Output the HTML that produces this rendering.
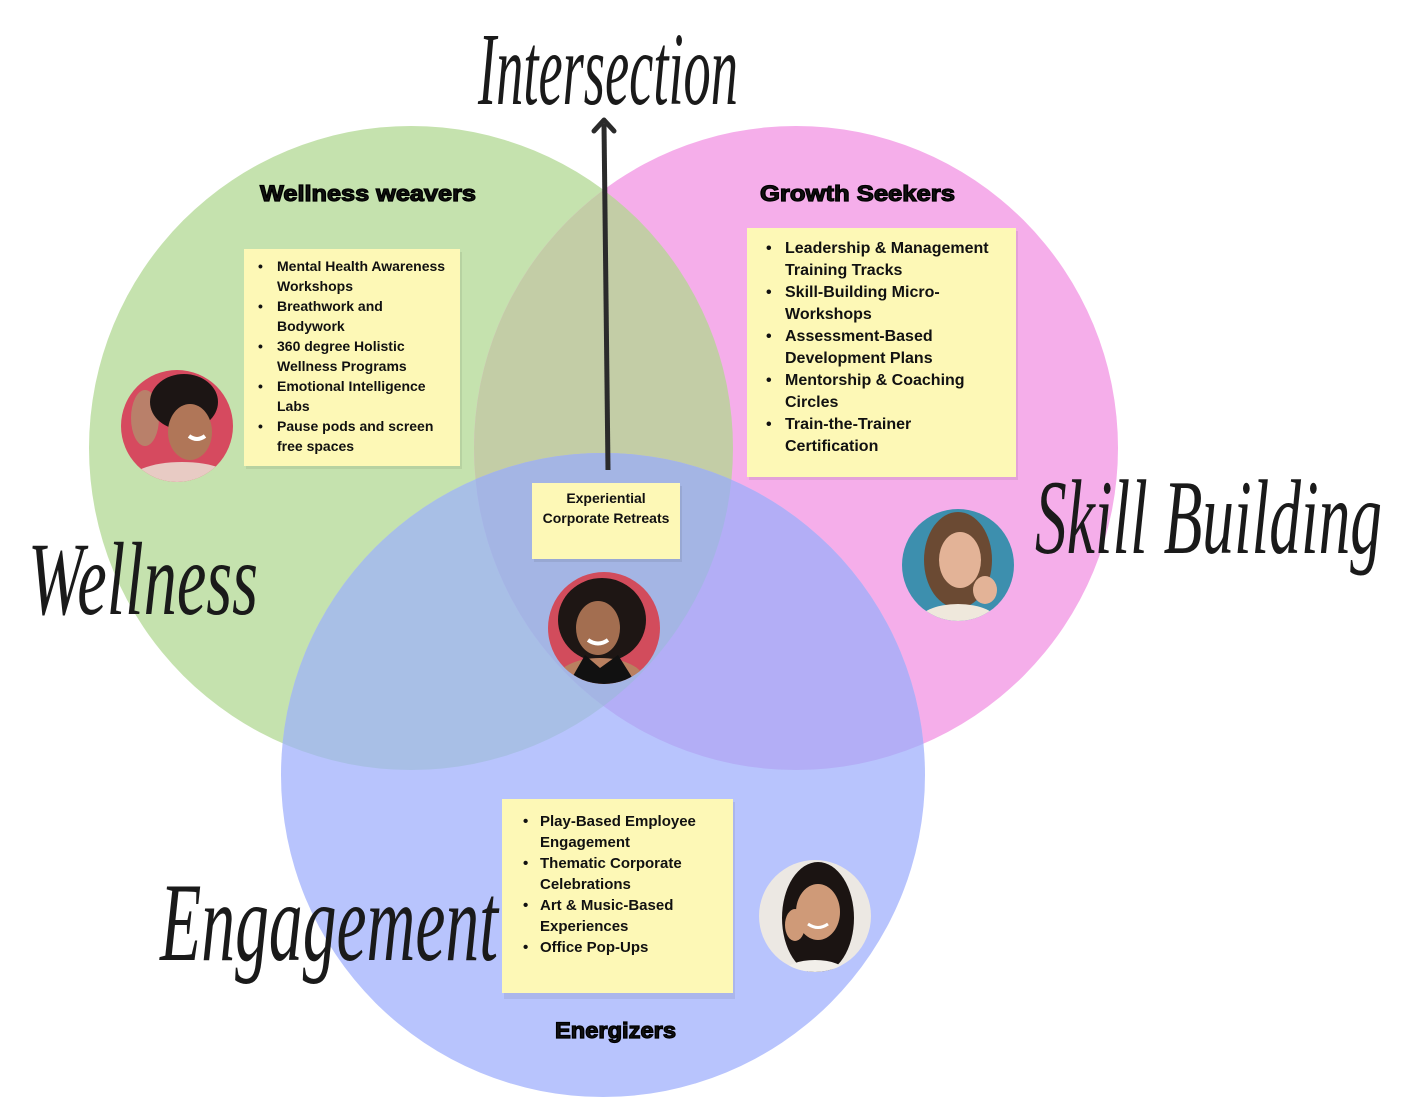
<!DOCTYPE html>
<html>
<head>
<meta charset="utf-8">
<style>
html,body{margin:0;padding:0;background:#fff;}
svg{display:block;}
.t{font-family:"Liberation Sans",sans-serif;font-weight:bold;fill:#111;}
.s{font-family:"Liberation Serif",serif;font-style:italic;fill:#1a1a1a;}
</style>
</head>
<body>
<svg width="1410" height="1117" viewBox="0 0 1410 1117" xmlns="http://www.w3.org/2000/svg">
<defs>
<clipPath id="cg"><circle cx="411" cy="448" r="322"/></clipPath>
<clipPath id="cp"><circle cx="796" cy="448" r="322"/></clipPath>
<clipPath id="c1"><circle cx="177" cy="426" r="56"/></clipPath>
<clipPath id="c2"><circle cx="604" cy="628" r="56"/></clipPath>
<clipPath id="c3"><circle cx="958" cy="565" r="56"/></clipPath>
<clipPath id="c4"><circle cx="815" cy="916" r="56"/></clipPath>
</defs>
<rect width="1410" height="1117" fill="#fff"/>

<!-- circles -->
<circle cx="411" cy="448" r="322" fill="#c5e2ae"/>
<circle cx="796" cy="448" r="322" fill="#f5aeea"/>
<circle cx="796" cy="448" r="322" fill="#c3cda6" clip-path="url(#cg)"/>
<circle cx="603" cy="775" r="322" fill="#b8c4fd"/>
<circle cx="603" cy="775" r="322" fill="#a8bfe6" clip-path="url(#cg)"/>
<circle cx="603" cy="775" r="322" fill="#b3aef6" clip-path="url(#cp)"/>
<g clip-path="url(#cg)"><circle cx="603" cy="775" r="322" fill="#a4b5e4" clip-path="url(#cp)"/></g>

<!-- script labels -->
<text class="s" x="478" y="104" font-size="104" textLength="260" lengthAdjust="spacingAndGlyphs">Intersection</text>
<text class="s" x="28" y="614" font-size="104" textLength="230" lengthAdjust="spacingAndGlyphs">Wellness</text>
<text class="s" x="1035" y="553" font-size="106" textLength="347" lengthAdjust="spacingAndGlyphs">Skill Building</text>
<text class="s" x="160" y="960" font-size="112" textLength="338" lengthAdjust="spacingAndGlyphs">Engagement</text>

<!-- arrow -->
<line x1="608" y1="470" x2="604" y2="124" stroke="#2b2b2b" stroke-width="5"/>
<polyline points="594,131 604,120 614,131" fill="none" stroke="#2b2b2b" stroke-width="5" stroke-linecap="round" stroke-linejoin="round"/>

<!-- titles -->
<text class="t" x="260" y="201" font-size="22" textLength="216" lengthAdjust="spacingAndGlyphs" stroke="#000" stroke-width="1.2" fill="#000">Wellness weavers</text>
<text class="t" x="760" y="201" font-size="22" textLength="195" lengthAdjust="spacingAndGlyphs" stroke="#000" stroke-width="1.2" fill="#000">Growth Seekers</text>
<text class="t" x="555" y="1038" font-size="22" textLength="121" lengthAdjust="spacingAndGlyphs" stroke="#000" stroke-width="1.2" fill="#000">Energizers</text>

<!-- notes -->
<!-- left -->
<rect x="246" y="252" width="216" height="217" fill="#000" opacity="0.07"/>
<rect x="244" y="249" width="216" height="217" fill="#fdf8b6"/>
<g class="t" font-size="14">
<text x="258" y="271">•</text><text x="277" y="271">Mental Health Awareness</text>
<text x="277" y="291">Workshops</text>
<text x="258" y="311">•</text><text x="277" y="311">Breathwork and</text>
<text x="277" y="331">Bodywork</text>
<text x="258" y="351">•</text><text x="277" y="351">360 degree Holistic</text>
<text x="277" y="371">Wellness Programs</text>
<text x="258" y="391">•</text><text x="277" y="391">Emotional Intelligence</text>
<text x="277" y="411">Labs</text>
<text x="258" y="431">•</text><text x="277" y="431">Pause pods and screen</text>
<text x="277" y="451">free spaces</text>
</g>

<!-- right -->
<rect x="749" y="231" width="269" height="249" fill="#000" opacity="0.07"/>
<rect x="747" y="228" width="269" height="249" fill="#fdf8b6"/>
<g class="t" font-size="16">
<text x="766" y="253">•</text><text x="785" y="253">Leadership &amp; Management</text>
<text x="785" y="275">Training Tracks</text>
<text x="766" y="297">•</text><text x="785" y="297">Skill-Building Micro-</text>
<text x="785" y="319">Workshops</text>
<text x="766" y="341">•</text><text x="785" y="341">Assessment-Based</text>
<text x="785" y="363">Development Plans</text>
<text x="766" y="385">•</text><text x="785" y="385">Mentorship &amp; Coaching</text>
<text x="785" y="407">Circles</text>
<text x="766" y="429">•</text><text x="785" y="429">Train-the-Trainer</text>
<text x="785" y="451">Certification</text>
</g>

<!-- center -->
<rect x="534" y="486" width="148" height="76" fill="#000" opacity="0.07"/>
<rect x="532" y="483" width="148" height="76" fill="#fdf8b6"/>
<g class="t" font-size="14" text-anchor="middle">
<text x="606" y="503">Experiential</text>
<text x="606" y="523">Corporate Retreats</text>
</g>

<!-- bottom -->
<rect x="504" y="802" width="231" height="197" fill="#000" opacity="0.07"/>
<rect x="502" y="799" width="231" height="194" fill="#fdf8b6"/>
<g class="t" font-size="15">
<text x="523" y="826">•</text><text x="540" y="826">Play-Based Employee</text>
<text x="540" y="847">Engagement</text>
<text x="523" y="868">•</text><text x="540" y="868">Thematic Corporate</text>
<text x="540" y="889">Celebrations</text>
<text x="523" y="910">•</text><text x="540" y="910">Art &amp; Music-Based</text>
<text x="540" y="931">Experiences</text>
<text x="523" y="952">•</text><text x="540" y="952">Office Pop-Ups</text>
</g>

<!-- photo 1 (left) -->
<g clip-path="url(#c1)">
<rect x="121" y="370" width="112" height="112" fill="#d64a5f"/>
<ellipse cx="145" cy="418" rx="14" ry="28" fill="#b9806a"/>
<ellipse cx="184" cy="402" rx="34" ry="28" fill="#1c1514"/>
<ellipse cx="190" cy="432" rx="22" ry="28" fill="#b07658"/>
<path d="M189 436 q8 6 16 0" stroke="#fff" stroke-width="4" fill="none"/>
<ellipse cx="182" cy="484" rx="56" ry="22" fill="#e8cbc4"/>
</g>
<!-- photo 2 (center) -->
<g clip-path="url(#c2)">
<rect x="548" y="572" width="112" height="112" fill="#d24c5c"/>
<ellipse cx="602" cy="620" rx="44" ry="42" fill="#1e1614"/>
<ellipse cx="598" cy="628" rx="22" ry="27" fill="#a36e50"/>
<path d="M588 640 q10 7 20 0" stroke="#fff" stroke-width="4" fill="none"/>
<ellipse cx="600" cy="680" rx="44" ry="22" fill="#b98060"/>
<path d="M565 690 L585 655 L600 668 L618 655 L640 690 Z" fill="#111"/>
</g>
<!-- photo 3 (right) -->
<g clip-path="url(#c3)">
<rect x="902" y="509" width="112" height="112" fill="#3d8fae"/>
<ellipse cx="958" cy="560" rx="34" ry="48" fill="#6b4a33"/>
<ellipse cx="960" cy="560" rx="21" ry="28" fill="#e3b397"/>
<ellipse cx="958" cy="622" rx="40" ry="18" fill="#efe8dc"/>
<ellipse cx="985" cy="590" rx="12" ry="14" fill="#e3b397"/>
</g>
<!-- photo 4 (bottom) -->
<g clip-path="url(#c4)">
<rect x="759" y="860" width="112" height="112" fill="#ece8e3"/>
<ellipse cx="818" cy="918" rx="36" ry="56" fill="#1b1412"/>
<ellipse cx="818" cy="912" rx="22" ry="28" fill="#cf9a78"/>
<path d="M808 924 q10 7 20 0" stroke="#fff" stroke-width="3" fill="none"/>
<ellipse cx="795" cy="925" rx="10" ry="16" fill="#cf9a78"/>
<ellipse cx="815" cy="972" rx="30" ry="12" fill="#f2efea"/>
</g>
</svg>
</body>
</html>
